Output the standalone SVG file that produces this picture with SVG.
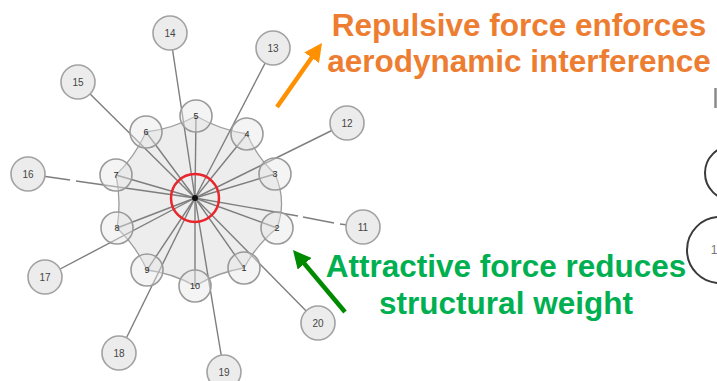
<svg xmlns="http://www.w3.org/2000/svg" width="717" height="381" viewBox="0 0 717 381">
<style>
.edge{stroke:#7e7e7e;stroke-width:1.4;fill:none}
.ring{fill:#e6e6e6;fill-opacity:0.45;stroke:#9a9a9a;stroke-width:1.6}
.outer{fill:#ececec;stroke:#a2a2a2;stroke-width:1.6}
.lbl{font-family:"Liberation Sans",Arial,sans-serif;font-size:10px;fill:#454545;text-anchor:middle}
.rl{font-size:9px;fill:#2a2a2a}
.big{font-family:"Liberation Sans",Arial,sans-serif;font-weight:bold;font-size:31.5px;text-anchor:middle}
</style>
<defs>
<marker id="ho" markerUnits="userSpaceOnUse" viewBox="0 0 18 18" markerWidth="18" markerHeight="18" refX="6" refY="9" orient="auto"><path d="M0,0 L18,9 L0,18 Z" fill="#ff9000"/></marker>
<marker id="hg" markerUnits="userSpaceOnUse" viewBox="0 0 18 18" markerWidth="18" markerHeight="18" refX="6" refY="9" orient="auto"><path d="M0,0 L18,9 L0,18 Z" fill="#008a00"/></marker>
</defs>
<rect width="717" height="381" fill="#ffffff"/>
<g id="hull">
<path d="M196,116 Q219.8,129.7 247,134 Q256.9,156.9 275,174 Q287,201 277,228 Q256.5,245 244,268 Q218,272.2 195,286 Q172.5,273.2 147,270 Q136,246 117,228 Q121.5,201.4 116,175 Q135,156.5 146,132 Q172.5,128.8 196,116 Z" fill="#ededed" stroke="#9c9c9c" stroke-width="1.3"/>
</g>
<g id="connectors">
<line class="edge" x1="195" y1="198" x2="196" y2="116"/>
<line class="edge" x1="195" y1="198" x2="247" y2="134"/>
<line class="edge" x1="195" y1="198" x2="275" y2="174"/>
<line class="edge" x1="195" y1="198" x2="277" y2="228"/>
<line class="edge" x1="195" y1="198" x2="244" y2="268"/>
<line class="edge" x1="195" y1="198" x2="195" y2="286"/>
<line class="edge" x1="195" y1="198" x2="147" y2="270"/>
<line class="edge" x1="195" y1="198" x2="117" y2="228"/>
<line class="edge" x1="195" y1="198" x2="116" y2="175"/>
<line class="edge" x1="195" y1="198" x2="146" y2="132"/>
<line class="edge" x1="195" y1="198" x2="170" y2="33"/>
<line class="edge" x1="195" y1="198" x2="273" y2="48"/>
<line class="edge" x1="195" y1="198" x2="78" y2="82"/>
<line class="edge" x1="195" y1="198" x2="347" y2="123"/>
<line class="edge" x1="195" y1="198" x2="76" y2="181"/>
<line class="edge" x1="70" y1="180" x2="28" y2="174"/>
<line class="edge" x1="195" y1="198" x2="298" y2="216"/>
<line class="edge" x1="303" y1="217" x2="334" y2="223"/>
<line class="edge" x1="340" y1="224" x2="363" y2="227"/>
<line class="edge" x1="195" y1="198" x2="45" y2="277"/>
<line class="edge" x1="195" y1="198" x2="318" y2="323"/>
<line class="edge" x1="195" y1="198" x2="119" y2="353"/>
<line class="edge" x1="195" y1="198" x2="224" y2="372"/>
<line x1="277" y1="107" x2="315.1" y2="52.8" stroke="#ff9000" stroke-width="4.5" marker-end="url(#ho)"/>
<line x1="345" y1="312" x2="300.7" y2="259.2" stroke="#008a00" stroke-width="4.5" marker-end="url(#hg)"/>
</g>
<g id="hub">
<circle cx="195" cy="198" r="24" fill="none" stroke="#e8262c" stroke-width="2.5"/>
<circle cx="195" cy="198" r="3" fill="#111"/>
</g>
<g id="n5"><circle class="ring" cx="196" cy="116" r="16"/><text class="lbl rl" x="196" y="119">5</text></g>
<g id="n4"><circle class="ring" cx="247" cy="134" r="16"/><text class="lbl rl" x="247" y="137">4</text></g>
<g id="n3"><circle class="ring" cx="275" cy="174" r="16"/><text class="lbl rl" x="275" y="177">3</text></g>
<g id="n2"><circle class="ring" cx="277" cy="228" r="16"/><text class="lbl rl" x="277" y="231">2</text></g>
<g id="n1"><circle class="ring" cx="244" cy="268" r="16"/><text class="lbl rl" x="244" y="271">1</text></g>
<g id="n10"><circle class="ring" cx="195" cy="286" r="16"/><text class="lbl rl" x="195" y="289">10</text></g>
<g id="n9"><circle class="ring" cx="147" cy="270" r="16"/><text class="lbl rl" x="147" y="273">9</text></g>
<g id="n8"><circle class="ring" cx="117" cy="228" r="16"/><text class="lbl rl" x="117" y="231">8</text></g>
<g id="n7"><circle class="ring" cx="116" cy="175" r="16"/><text class="lbl rl" x="116" y="178">7</text></g>
<g id="n6"><circle class="ring" cx="146" cy="132" r="16"/><text class="lbl rl" x="146" y="135">6</text></g>
<g id="n14"><circle class="outer" cx="170" cy="33" r="17"/><text class="lbl" x="170" y="36.5">14</text></g>
<g id="n13"><circle class="outer" cx="273" cy="48" r="17"/><text class="lbl" x="273" y="51.5">13</text></g>
<g id="n15"><circle class="outer" cx="78" cy="82" r="17"/><text class="lbl" x="78" y="85.5">15</text></g>
<g id="n12"><circle class="outer" cx="347" cy="123" r="17"/><text class="lbl" x="347" y="126.5">12</text></g>
<g id="n16"><circle class="outer" cx="28" cy="174" r="17"/><text class="lbl" x="28" y="177.5">16</text></g>
<g id="n11"><circle class="outer" cx="363" cy="227" r="17"/><text class="lbl" x="363" y="230.5">11</text></g>
<g id="n17"><circle class="outer" cx="45" cy="277" r="17"/><text class="lbl" x="45" y="280.5">17</text></g>
<g id="n20"><circle class="outer" cx="318" cy="323" r="17"/><text class="lbl" x="318" y="326.5">20</text></g>
<g id="n18"><circle class="outer" cx="119" cy="353" r="17"/><text class="lbl" x="119" y="356.5">18</text></g>
<g id="n19"><circle class="outer" cx="224" cy="372" r="17"/><text class="lbl" x="224" y="375.5">19</text></g>
<g id="right-edge">
<line x1="715.5" y1="88" x2="715.5" y2="108" stroke="#8a8a8a" stroke-width="2.5"/>
<circle cx="732" cy="173" r="27" fill="#fff" stroke="#3a3a3a" stroke-width="2"/>
<circle cx="720" cy="250" r="33" fill="#fff" stroke="#3a3a3a" stroke-width="2"/>
<text class="lbl" x="714" y="254" style="font-size:12px;fill:#777">1</text>
</g>
<g id="labels">
<text class="big" x="519" y="36" fill="#ed7d31">Repulsive force enforces</text>
<text class="big" x="519" y="72" fill="#ed7d31">aerodynamic interference</text>
<text class="big" x="506" y="277" fill="#00b050">Attractive force reduces</text>
<text class="big" x="506" y="314" fill="#00b050">structural weight</text>
</g>
</svg>
